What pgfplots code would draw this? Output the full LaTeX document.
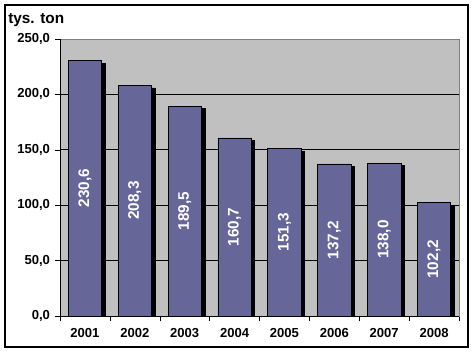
\documentclass[border=0pt]{standalone}
\usepackage{pgfplots}
\pgfplotsset{compat=1.18}
\usepackage{fontspec}
\setmainfont{Liberation Sans}
\definecolor{barblue}{RGB}{102,102,153}
\definecolor{plotgray}{RGB}{192,192,192}
\begin{document}
\begin{tikzpicture}
\begin{axis}[
  name=ax,
  scale only axis,
  width=299.25pt, height=207.75pt,
  xmin=0.5, xmax=8.5,
  ymin=0, ymax=250,
  axis background/.style={fill=plotgray},
  axis line style={draw=gray},
  xtick={1,...,8},
  xticklabels={2001,2002,2003,2004,2005,2006,2007,2008},
  minor xtick={0.5,1.5,...,8.5},
  x tick style={draw=none},
  minor x tick style={draw=black},
  minor tick length=4pt,
  ytick={0,50,...,250},
  y tick style={draw=black},
  major tick length=4pt,
  tick align=outside,
  xtick pos=bottom, ytick pos=left,
  extra y ticks={50,100,150,200},
  extra y tick labels={},
  extra y tick style={grid=major, major tick length=0pt},
  grid style={black, line width=0.6pt},
  yticklabel style={/pgf/number format/.cd, fixed, fixed zerofill, precision=1, use comma, assume math mode=true},
  ticklabel style={font=\fontsize{9.8}{11}\selectfont\bfseries},
  xticklabel style={yshift=-2pt},
  ybar, bar width=25pt,
  clip=true,
]
\addplot[fill=black, draw=black, bar shift=0pt, transform canvas={xshift=2.6pt, yshift=-2pt}] coordinates {
 (1,230.6) (2,208.3) (3,189.5) (4,160.7) (5,151.3) (6,137.2) (7,138.0) (8,102.2)};
\addplot[fill=barblue, draw=black, line width=0.5pt, bar shift=0pt,
  visualization depends on=y \as \rawy,
  nodes near coords={\pgfmathprintnumber[fixed,fixed zerofill,precision=1,use comma,assume math mode=true]{\pgfplotspointmeta}},
  every node near coord/.append style={shift={(axis direction cs:0,-\rawy/2)}, anchor=center, rotate=90, text=white, font=\fontsize{11.5}{13}\selectfont\bfseries}
] coordinates {
 (1,230.6) (2,208.3) (3,189.5) (4,160.7) (5,151.3) (6,137.2) (7,138.0) (8,102.2)};
\draw[black, line width=0.7pt] (rel axis cs:0,1) -- (rel axis cs:0,0) -- (rel axis cs:1,0);
\end{axis}
\useasboundingbox ([shift={(-45pt,-27.75pt)}]ax.south west) rectangle ([shift={(310.5pt,237pt)}]ax.south west);
\draw[black, line width=0.9pt] ([shift={(-41.25pt,-23.25pt)}]ax.south west) rectangle ([shift={(306pt,233.25pt)}]ax.south west);
\node[anchor=west, font=\fontsize{11.5}{13}\selectfont\bfseries, inner sep=0pt] at ([shift={(-39pt,222pt)}]ax.south west) {tys. ton};
\end{tikzpicture}
\end{document}
